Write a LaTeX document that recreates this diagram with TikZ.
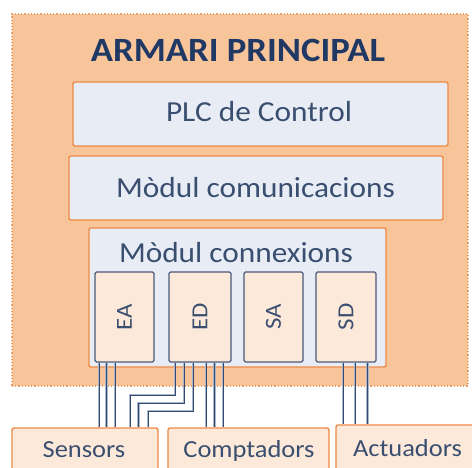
\documentclass[tikz,border=0pt]{standalone}
\usepackage{fontspec}
\setmainfont{Carlito}[FakeStretch=1.08]
\definecolor{outerfill}{HTML}{F8C49A}
\definecolor{outerdraw}{HTML}{E8A06A}
\definecolor{boxfill}{HTML}{E8EDF5}
\definecolor{boxdraw}{HTML}{EE8A45}
\definecolor{slotfill}{HTML}{FDE9DA}
\definecolor{slotdraw}{HTML}{4A5A78}
\definecolor{txt}{HTML}{3A4F70}
\definecolor{title}{HTML}{1F3864}
\definecolor{wire}{HTML}{34496E}
\definecolor{halo}{HTML}{A9B6CC}
\tikzset{
  outerbox/.style={draw=outerdraw, fill=outerfill, line width=1.2pt, dotted, inner sep=0pt},
  panel/.style={draw=boxdraw, fill=boxfill, line width=1.4pt, rounded corners=2pt, inner sep=0pt},
  slot/.style={draw=slotdraw, fill=slotfill, line width=1.1pt, rounded corners=1.5pt, inner sep=0pt, minimum height=90pt},
  device/.style={draw=boxdraw, fill=slotfill, line width=1.4pt, rounded corners=2pt, inner sep=0pt, minimum height=46pt},
  lbl/.style={text=txt, inner sep=0pt, font=\fontsize{29}{32}\selectfont},
  devlbl/.style={text=txt, inner sep=0pt, font=\fontsize{24.5}{28}\selectfont},
  slotlbl/.style={text=txt, inner sep=0pt, rotate=90, font=\fontsize{23}{26}\selectfont},
  wire/.style={draw=wire, line width=1pt, preaction={draw=halo, line width=2.6pt}},
}
\begin{document}
\begin{tikzpicture}[x=1pt, y=-1pt]
\useasboundingbox[fill=white] (0,0) rectangle (472,468);
% outer cabinet
\node[outerbox, minimum width=456pt, minimum height=372pt] (outer) at (240,200) {};
\node[text=title, inner sep=0pt, font=\fontsize{34}{38}\selectfont\bfseries] (ttl) at (238,50) {ARMARI PRINCIPAL};
% panels
\node[panel, minimum width=375pt, minimum height=64pt] (plc) at (260.5,114) {};
\node[lbl] (plct) at (259,112) {PLC de Control};
\node[panel, minimum width=374pt, minimum height=64pt] (comm) at (256,188) {};
\node[lbl] (commt) at (255.5,188) {Mòdul comunicacions};
\node[panel, minimum width=297pt, minimum height=139pt] (conn) at (237.5,297.5) {};
\node[lbl] (connt) at (236,253) {Mòdul connexions};
% slots
\node[slot, minimum width=59pt] (EA) at (124.5,317) {};
\node[slotlbl] at (EA.center) {EA};
\node[slot, minimum width=62pt] (ED) at (200,317) {};
\node[slotlbl] at (ED.center) {ED};
\node[slot, minimum width=59pt] (SA) at (273.5,317) {};
\node[slotlbl] at (SA.center) {SA};
\node[slot, minimum width=60pt] (SD) at (346,317) {};
\node[slotlbl] at (SD.center) {SD};
% field devices
\node[device, minimum width=146pt] (sens) at (85,451) {};
\node[devlbl] at (84,450) {Sensors};
\node[device, minimum width=161pt] (comp) at (248.5,451) {};
\node[devlbl] at (249,451) {Comptadors};
\node[device, minimum width=140pt] (act) at (406,448) {};
\node[devlbl] at (407.5,448) {Actuadors};
% wires EA -> Sensors
\foreach \x in {99,106.5,115}
  \draw[wire] (\x,0 |- EA.south) -- (\x,0 |- sens.north);
% wires ED -> Sensors (bent)
\draw[wire] (175,0 |- ED.south) |- (130,395) -- (130,0 |- sens.north);
\draw[wire] (184,0 |- ED.south) |- (138.5,403) -- (138.5,0 |- sens.north);
\draw[wire] (193,0 |- ED.south) |- (148,411) -- (148,0 |- sens.north);
% wires ED -> Comptadors
\foreach \x in {206,214.5,223}
  \draw[wire] (\x,0 |- ED.south) -- (\x,0 |- comp.north);
% wires SD -> Actuadors
\foreach \x in {343,355,367.5}
  \draw[wire] (\x,0 |- SD.south) -- (\x,0 |- act.north);
\end{tikzpicture}
\end{document}
